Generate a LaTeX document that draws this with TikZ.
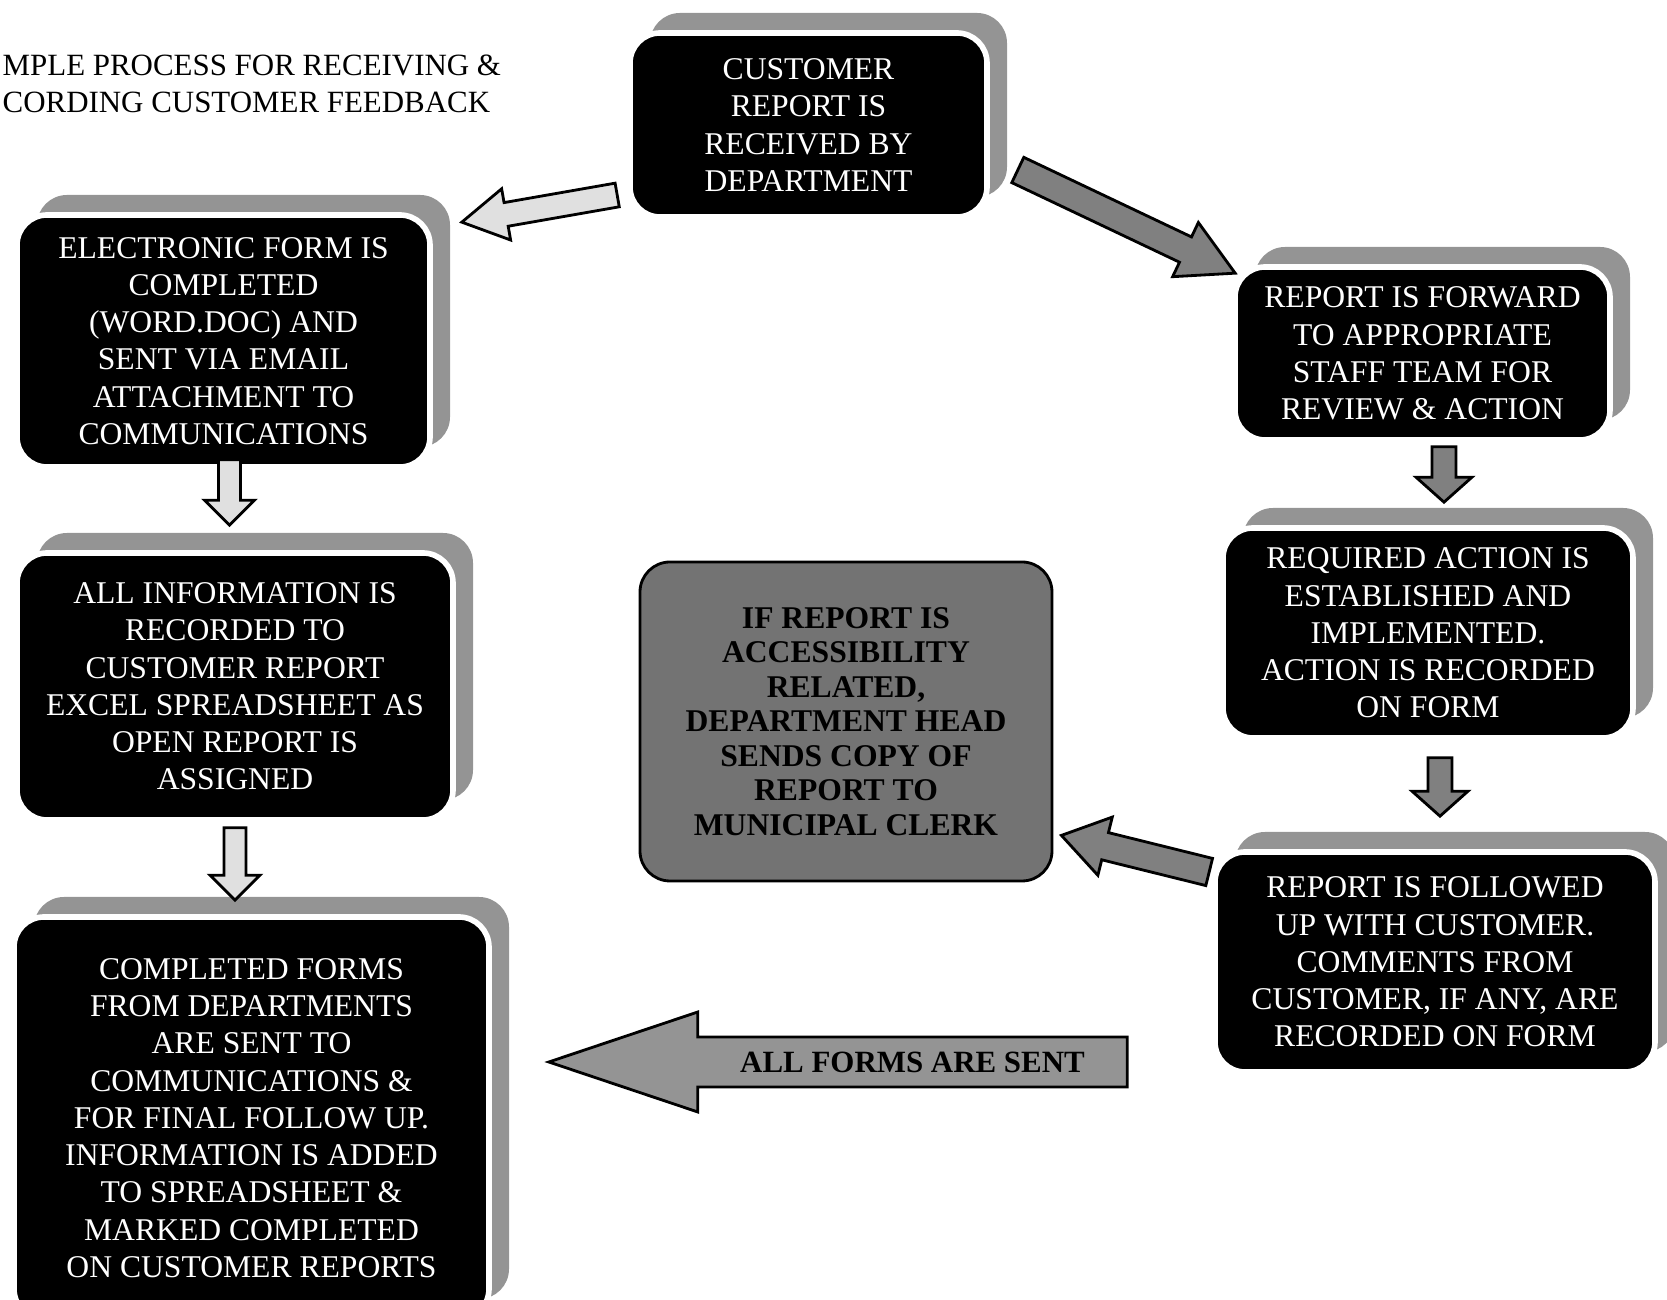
\documentclass[tikz,border=0pt]{standalone}
\usepackage{fontspec}
\setmainfont{Liberation Serif}
\usetikzlibrary{calc,shadows}

% block arrow: [style]{tail}{tip}{half shaft}{half head}{head length}
\newcommand\blockarrow[6][]{%
  \coordinate (ba-t) at (#2);
  \coordinate (ba-h) at (#3);
  \coordinate (ba-b) at ($(ba-h)!#6!(ba-t)$);
  \draw[#1] ($(ba-t)!#4!90:(ba-h)$) -- ($(ba-b)!#4!90:(ba-h)$) -- ($(ba-b)!#5!90:(ba-h)$) -- (ba-h)
    -- ($(ba-b)!#5!-90:(ba-h)$) -- ($(ba-b)!#4!-90:(ba-h)$) -- ($(ba-t)!#4!-90:(ba-h)$) -- cycle;
}

\begin{document}
\begin{tikzpicture}[
    stepbox/.style={rectangle, rounded corners=0.3cm, fill=black, draw=white, line width=1.6pt,
      text=white, align=center, font=\fontsize{9}{10.6}\selectfont,
      general shadow={shadow xshift=0.2cm, shadow yshift=0.2cm, fill=black!42}},
    clerkbox/.style={rectangle, rounded corners=0.3cm, fill=black!55, draw=black, line width=0.8pt,
      align=center, font=\bfseries\fontsize{9}{9.8}\selectfont},
    lightarr/.style={draw=black, line width=0.8pt, fill=black!12},
    darkarr/.style={draw=black, line width=0.8pt, fill=black!50},
    sentarr/.style={draw=black, line width=0.8pt, fill=black!42},
  ]
    \useasboundingbox (0,0) rectangle (16.67,-13);
    \clip (0,0) rectangle (16.67,-13);

    \node[anchor=west, align=left, inner sep=0pt, font=\fontsize{8.8}{10.5}\selectfont] (title) at (0.02,-0.84)
      {MPLE PROCESS FOR RECEIVING \&\\CORDING CUSTOMER FEEDBACK};

    \node[stepbox, minimum width=3.57cm, minimum height=1.84cm] (cust) at (8.085,-1.25)
      {CUSTOMER\\REPORT IS\\RECEIVED BY\\DEPARTMENT};
    \node[stepbox, minimum width=4.13cm, minimum height=2.52cm] (elec) at (2.235,-3.41)
      {ELECTRONIC FORM IS\\COMPLETED\\(WORD.DOC) AND\\SENT VIA EMAIL\\ATTACHMENT TO\\COMMUNICATIONS};
    \node[stepbox, minimum width=3.75cm, minimum height=1.73cm] (fwd) at (14.225,-3.535)
      {REPORT IS FORWARD\\TO APPROPRIATE\\STAFF TEAM FOR\\REVIEW \& ACTION};
    \node[stepbox, minimum width=4.36cm, minimum height=2.67cm] (info) at (2.35,-6.865)
      {ALL INFORMATION IS\\RECORDED TO\\CUSTOMER REPORT\\EXCEL SPREADSHEET AS\\OPEN REPORT IS\\ASSIGNED};
    \node[stepbox, minimum width=4.10cm, minimum height=2.10cm] (act) at (14.28,-6.33)
      {REQUIRED ACTION IS\\ESTABLISHED AND\\IMPLEMENTED.\\ACTION IS RECORDED\\ON FORM};
    \node[stepbox, minimum width=4.40cm, minimum height=2.20cm] (follow) at (14.35,-9.62)
      {REPORT IS FOLLOWED\\UP WITH CUSTOMER.\\COMMENTS FROM\\CUSTOMER, IF ANY, ARE\\RECORDED ON FORM};
    \node[stepbox, minimum width=4.75cm, minimum height=4.02cm] (store) at (2.515,-11.18)
      {COMPLETED FORMS\\FROM DEPARTMENTS\\ARE SENT TO\\COMMUNICATIONS \&\\FOR FINAL FOLLOW UP.\\INFORMATION IS ADDED\\TO SPREADSHEET \&\\MARKED COMPLETED\\ON CUSTOMER REPORTS};
    \node[clerkbox, minimum width=4.12cm, minimum height=3.19cm] (clerk) at (8.46,-7.215)
      {IF REPORT IS\\ACCESSIBILITY\\RELATED,\\DEPARTMENT HEAD\\SENDS COPY OF\\REPORT TO\\MUNICIPAL CLERK};

    \blockarrow[lightarr]{$(cust.west)+(-0.1,-0.7)$}{$(elec.north east)+(0.29,-0.1)$}{0.12cm}{0.26cm}{0.45cm}
    \blockarrow[darkarr]{$(cust.east)+(0.28,-0.45)$}{$(fwd.north west)+(0.03,-0.09)$}{0.14cm}{0.3cm}{0.55cm}
    \blockarrow[lightarr]{$(elec.south)+(0.06,0.1)$}{$(elec.south |- info.north)+(0.06,0.25)$}{0.11cm}{0.25cm}{0.25cm}
    \blockarrow[lightarr]{$(info.south)+(0,-0.05)$}{$(info.south |- store.north)+(0,0.14)$}{0.11cm}{0.25cm}{0.25cm}
    \blockarrow[darkarr]{$(fwd.south)+(0.215,-0.04)$}{$(fwd.south |- act.north)+(0.215,0.23)$}{0.12cm}{0.28cm}{0.25cm}
    \blockarrow[darkarr]{$(act.south)+(0.12,-0.17)$}{$(act.south |- follow.north)+(0.12,0.33)$}{0.12cm}{0.28cm}{0.25cm}
    \blockarrow[darkarr]{$(follow.west)+(-0.03,0.9)$}{$(clerk.south east)+(0.08,0.47)$}{0.14cm}{0.3cm}{0.45cm}
    \blockarrow[sentarr]{$(follow.west)+(-0.85,-1.0)$}{$(store.east)+(0.57,0.56)$}{0.25cm}{0.5cm}{1.49cm}
    \node[font=\bfseries\fontsize{8.8}{10}\selectfont] (sent) at ($(ba-b)!.5!(ba-t)$) {ALL FORMS ARE SENT};
\end{tikzpicture}
\end{document}
